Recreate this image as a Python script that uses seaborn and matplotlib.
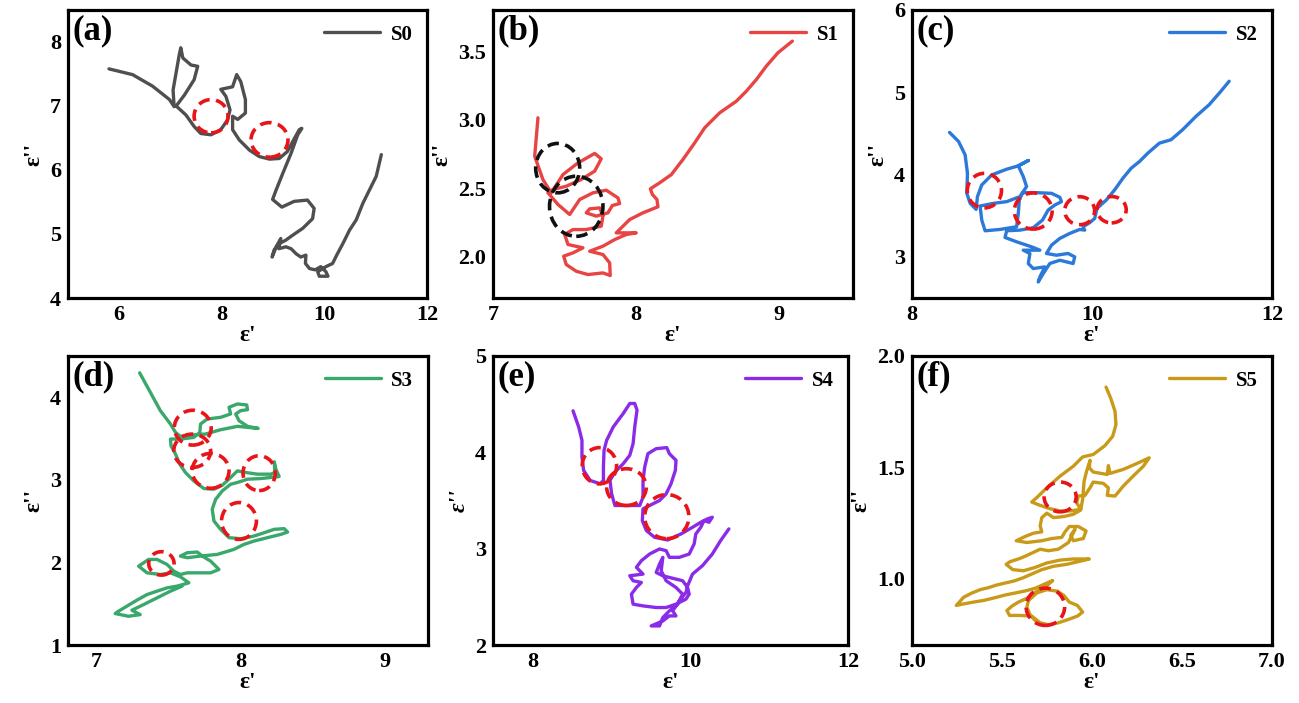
import matplotlib
matplotlib.use("Agg")
import matplotlib.pyplot as plt
from matplotlib.patches import Ellipse
from matplotlib.ticker import FormatStrFormatter
import seaborn as sns

# ---- data (epsilon' , epsilon'') ----
s0_re = [5.80, 6.26, 6.65, 6.98, 7.07, 7.05, 7.12, 7.17, 7.20, 7.24, 7.40, 7.53, 7.46, 7.27, 7.11, 7.30, 7.46,
         7.59, 7.79, 7.98, 8.11, 8.16, 8.08, 7.98, 8.21, 8.29, 8.37, 8.46, 8.46, 8.31, 8.21, 8.21, 8.34, 8.54,
         8.73, 8.93, 9.12, 9.28, 9.40, 9.51, 9.56, 9.48, 9.35, 9.19, 9.06, 8.99, 9.17, 9.41, 9.67, 9.80, 9.77,
         9.58, 9.38, 9.24, 9.12, 9.02, 8.98, 9.06, 9.15, 9.11, 9.25, 9.35, 9.45, 9.54, 9.64, 9.63, 9.71, 9.82,
         9.93, 10.03, 10.07, 9.90, 9.87, 10.03, 10.16, 10.24, 10.36, 10.49, 10.62, 10.75, 10.88, 11.01, 11.11]
s0_im = [7.58, 7.49, 7.31, 7.10, 6.99, 7.25, 7.57, 7.80, 7.91, 7.75, 7.64, 7.62, 7.41, 7.17, 7.00, 6.86, 6.68,
         6.57, 6.55, 6.63, 6.78, 6.94, 7.15, 7.26, 7.30, 7.49, 7.38, 7.10, 6.89, 6.79, 6.84, 6.63, 6.47, 6.31,
         6.21, 6.17, 6.18, 6.29, 6.47, 6.63, 6.65, 6.55, 6.26, 5.95, 5.69, 5.54, 5.42, 5.51, 5.53, 5.40, 5.24,
         5.09, 4.98, 4.90, 4.85, 4.75, 4.64, 4.80, 4.93, 4.77, 4.80, 4.77, 4.69, 4.64, 4.67, 4.54, 4.46, 4.44,
         4.49, 4.41, 4.34, 4.34, 4.41, 4.49, 4.54, 4.67, 4.85, 5.06, 5.22, 5.48, 5.69, 5.90, 6.24]

s1_re = [7.315, 7.292, 7.350, 7.408, 7.490, 7.595, 7.712, 7.758, 7.712, 7.618, 7.513, 7.420, 7.385, 7.455,
         7.537, 7.607, 7.700, 7.793, 7.875, 7.887, 7.835, 7.805, 7.723, 7.653, 7.677, 7.747, 7.770, 7.758,
         7.653, 7.560, 7.502, 7.525, 7.630, 7.560, 7.495, 7.513, 7.583, 7.665, 7.770, 7.821, 7.817, 7.770,
         7.677, 7.770, 7.852, 7.933, 8.003, 7.933, 7.863, 7.957, 8.050, 8.155, 8.148, 8.116, 8.102, 8.167,
         8.249, 8.330, 8.412, 8.482, 8.587, 8.704, 8.774, 8.844, 8.914, 8.995, 9.096]
s1_im = [3.014, 2.734, 2.563, 2.467, 2.600, 2.685, 2.754, 2.715, 2.625, 2.564, 2.515, 2.491, 2.467, 2.382,
         2.309, 2.418, 2.467, 2.486, 2.430, 2.389, 2.374, 2.321, 2.297, 2.321, 2.350, 2.357, 2.297, 2.224,
         2.199, 2.199, 2.163, 2.090, 2.066, 2.029, 2.005, 1.944, 1.895, 1.871, 1.883, 1.864, 1.956, 2.017,
         2.041, 2.078, 2.126, 2.163, 2.175, 2.175, 2.175, 2.272, 2.321, 2.365, 2.418, 2.455, 2.496, 2.540,
         2.600, 2.710, 2.831, 2.941, 3.050, 3.135, 3.208, 3.293, 3.391, 3.488, 3.573]

s2_re = [8.417, 8.517, 8.590, 8.616, 8.609, 8.646, 8.712, 8.727, 8.775, 8.886, 9.052, 9.181, 9.292, 9.181,
         9.236, 9.273, 9.199, 9.052, 8.904, 8.756, 8.775, 8.812, 8.978, 9.162, 9.181, 9.192, 9.229, 9.384,
         9.550, 9.642, 9.661, 9.587, 9.513, 9.450, 9.347, 9.199, 9.052, 9.033, 9.162, 9.328, 9.421, 9.236,
         9.310, 9.292, 9.347, 9.476, 9.421, 9.402, 9.458, 9.531, 9.642, 9.790, 9.808, 9.734, 9.605, 9.494,
         9.550, 9.642, 9.753, 9.863, 9.919, 9.900, 9.974, 10.030, 10.055, 10.159, 10.251, 10.343, 10.435,
         10.528, 10.620, 10.749, 10.878, 11.007, 11.155, 11.303, 11.432, 11.524]
s2_im = [4.512, 4.402, 4.240, 4.016, 3.772, 3.650, 3.577, 3.732, 3.874, 3.996, 4.065, 4.106, 4.171, 4.106,
         3.976, 3.854, 3.732, 3.671, 3.650, 3.618, 3.447, 3.317, 3.333, 3.366, 3.528, 3.691, 3.780, 3.780,
         3.772, 3.724, 3.671, 3.630, 3.569, 3.447, 3.354, 3.325, 3.317, 3.236, 3.183, 3.122, 3.081, 3.081,
         3.041, 2.919, 2.858, 2.878, 2.756, 2.695, 2.797, 2.919, 2.959, 2.919, 3.000, 3.041, 3.020, 3.041,
         3.142, 3.224, 3.285, 3.333, 3.325, 3.366, 3.415, 3.467, 3.589, 3.691, 3.813, 3.955, 4.077, 4.159,
         4.260, 4.382, 4.423, 4.545, 4.707, 4.850, 5.012, 5.134]

s3_re = [7.298, 7.372, 7.442, 7.512, 7.547, 7.581, 7.663, 7.756, 7.860, 7.977, 8.121, 8.047, 7.988, 7.965,
         8.000, 8.047, 8.042, 7.977, 7.919, 7.930, 7.860, 7.767, 7.721, 7.716, 7.674, 7.581, 7.512, 7.516,
         7.547, 7.577, 7.616, 7.674, 7.744, 7.814, 7.872, 7.930, 7.977, 8.035, 8.116, 8.209, 8.237, 8.233,
         8.244, 8.267, 8.140, 8.047, 7.977, 7.930, 7.872, 7.826, 7.802, 7.814, 7.860, 7.919, 8.000, 8.093,
         8.163, 8.233, 8.302, 8.326, 8.279, 8.186, 8.093, 8.023, 7.953, 7.837, 7.721, 7.628, 7.581, 7.628,
         7.698, 7.733, 7.791, 7.849, 7.791, 7.698, 7.628, 7.581, 7.535, 7.488, 7.419, 7.360, 7.291, 7.349,
         7.442, 7.512, 7.581, 7.640, 7.558, 7.488, 7.419, 7.349, 7.279, 7.209, 7.151, 7.128, 7.221, 7.302,
         7.244, 7.326, 7.419, 7.512, 7.593]
s3_im = [4.296, 4.061, 3.838, 3.676, 3.575, 3.526, 3.543, 3.555, 3.607, 3.648, 3.623, 3.648, 3.717, 3.798,
         3.838, 3.850, 3.907, 3.919, 3.879, 3.798, 3.757, 3.737, 3.676, 3.575, 3.514, 3.494, 3.494, 3.413,
         3.312, 3.190, 3.089, 2.988, 2.895, 2.887, 2.935, 3.028, 3.109, 3.089, 3.069, 3.069, 3.089, 3.219,
         3.130, 3.040, 3.016, 3.008, 2.968, 2.947, 2.866, 2.765, 2.644, 2.502, 2.401, 2.300, 2.287, 2.320,
         2.360, 2.401, 2.409, 2.368, 2.340, 2.300, 2.259, 2.219, 2.158, 2.097, 2.077, 2.057, 2.077, 2.117,
         2.126, 2.077, 2.016, 1.915, 1.874, 1.874, 1.874, 1.854, 1.895, 1.976, 2.036, 2.036, 1.955, 1.874,
         1.854, 1.874, 1.826, 1.753, 1.713, 1.692, 1.652, 1.611, 1.543, 1.470, 1.409, 1.381, 1.348, 1.368,
         1.421, 1.490, 1.571, 1.652, 1.713]

s4_re = [8.515, 8.586, 8.628, 8.628, 8.649, 8.732, 8.858, 8.900, 8.900, 8.908, 8.941, 9.025, 9.151, 9.234,
         9.297, 9.326, 9.297, 9.276, 9.234, 9.151, 9.046, 8.983, 9.004, 9.046, 9.192, 9.360, 9.402, 9.402,
         9.423, 9.464, 9.569, 9.703, 9.736, 9.820, 9.812, 9.757, 9.695, 9.611, 9.485, 9.402, 9.393, 9.444,
         9.548, 9.715, 9.883, 10.029, 10.134, 10.218, 10.280, 10.238, 10.176, 10.134, 10.071, 10.050, 9.987,
         9.862, 9.736, 9.695, 9.611, 9.485, 9.381, 9.318, 9.402, 9.234, 9.276, 9.381, 9.318, 9.255, 9.276,
         9.402, 9.569, 9.695, 9.820, 9.946, 9.987, 9.967, 9.904, 9.820, 9.736, 9.653, 9.569, 9.611, 9.653,
         9.632, 9.695, 9.820, 9.904, 9.841, 9.736, 9.653, 9.611, 9.506, 9.653, 9.736, 9.820, 9.778, 9.862,
         9.946, 9.967, 10.029, 10.155, 10.280, 10.385, 10.490]
s4_im = [4.431, 4.264, 4.125, 3.951, 3.813, 3.708, 3.674, 3.708, 3.847, 4.021, 4.125, 4.264, 4.403, 4.507,
         4.507, 4.438, 4.264, 4.090, 3.969, 3.882, 3.795, 3.708, 3.569, 3.448, 3.448, 3.448, 3.535, 3.708,
         3.847, 3.986, 4.038, 4.049, 3.986, 3.917, 3.813, 3.674, 3.569, 3.500, 3.448, 3.413, 3.292, 3.188,
         3.118, 3.090, 3.153, 3.222, 3.274, 3.309, 3.326, 3.274, 3.292, 3.222, 3.153, 3.049, 2.944, 2.910,
         2.910, 2.979, 2.997, 2.944, 2.875, 2.806, 2.736, 2.719, 2.667, 2.649, 2.597, 2.528, 2.424, 2.406,
         2.389, 2.389, 2.424, 2.476, 2.528, 2.597, 2.667, 2.684, 2.701, 2.719, 2.753, 2.840, 2.910, 2.771,
         2.667, 2.597, 2.528, 2.424, 2.354, 2.285, 2.198, 2.198, 2.250, 2.302, 2.302, 2.354, 2.458, 2.545,
         2.615, 2.736, 2.823, 2.944, 3.083, 3.205]

s5_re = [6.078, 6.104, 6.128, 6.133, 6.115, 6.072, 6.007, 5.948, 5.896, 5.823, 5.749, 5.693, 5.665, 5.712,
         5.767, 5.823, 5.878, 5.937, 5.915, 5.924, 5.961, 5.989, 6.007, 6.063, 6.091, 6.085, 6.128, 6.174,
         6.229, 6.285, 6.318, 6.248, 6.174, 6.100, 6.091, 6.085, 6.007, 5.985, 5.989, 5.970, 5.956, 5.948,
         5.937, 5.896, 5.845, 5.786, 5.749, 5.721, 5.712, 5.721, 5.675, 5.628, 5.579, 5.638, 5.721, 5.776,
         5.832, 5.850, 5.874, 5.924, 5.967, 5.952, 5.896, 5.882, 5.906, 5.869, 5.813, 5.758, 5.712, 5.665,
         5.628, 5.591, 5.545, 5.523, 5.560, 5.619, 5.684, 5.749, 5.823, 5.896, 5.985, 5.924, 5.860, 5.786,
         5.721, 5.665, 5.619, 5.567, 5.518, 5.471, 5.425, 5.379, 5.333, 5.287, 5.246, 5.287, 5.342, 5.401,
         5.462, 5.518, 5.573, 5.628, 5.684, 5.739, 5.782, 5.739, 5.684, 5.638, 5.591, 5.555, 5.527, 5.542,
         5.601, 5.665, 5.712, 5.758, 5.813, 5.869, 5.919, 5.948, 5.919, 5.874, 5.845, 5.808, 5.749, 5.693,
         5.647, 5.638, 5.656, 5.684]
s5_im = [1.860, 1.810, 1.751, 1.691, 1.639, 1.597, 1.557, 1.546, 1.504, 1.460, 1.407, 1.363, 1.343, 1.328,
         1.313, 1.303, 1.303, 1.310, 1.340, 1.370, 1.373, 1.407, 1.433, 1.427, 1.407, 1.373, 1.370, 1.415,
         1.460, 1.504, 1.542, 1.516, 1.490, 1.472, 1.507, 1.467, 1.478, 1.497, 1.531, 1.482, 1.437, 1.355,
         1.307, 1.288, 1.278, 1.273, 1.293, 1.273, 1.236, 1.209, 1.203, 1.188, 1.169, 1.161, 1.169, 1.179,
         1.184, 1.209, 1.233, 1.233, 1.213, 1.179, 1.169, 1.194, 1.221, 1.161, 1.131, 1.124, 1.131, 1.113,
         1.099, 1.087, 1.075, 1.063, 1.039, 1.034, 1.049, 1.069, 1.082, 1.087, 1.087, 1.075, 1.063, 1.054,
         1.039, 1.019, 1.003, 0.988, 0.979, 0.970, 0.958, 0.949, 0.934, 0.915, 0.878, 0.885, 0.893, 0.901,
         0.913, 0.925, 0.934, 0.943, 0.955, 0.975, 0.990, 0.960, 0.937, 0.910, 0.893, 0.875, 0.855, 0.833,
         0.833, 0.830, 0.800, 0.791, 0.800, 0.815, 0.830, 0.848, 0.878, 0.893, 0.922, 0.942, 0.949, 0.934,
         0.900, 0.870, 0.836, 0.810]

# dashed ellipse annotations: (centre eps', centre eps'', half-width, half-height)
circ_a = [(7.79, 6.84, 0.33, 0.26), (8.93, 6.47, 0.36, 0.27)]
circ_b = [(7.453, 2.647, 0.154, 0.18), (7.583, 2.369, 0.187, 0.219)]
circ_c = [(8.804, 3.805, 0.19, 0.21), (9.347, 3.557, 0.21, 0.22), (9.863, 3.561, 0.166, 0.17),
          (10.218, 3.573, 0.162, 0.16)]
circ_d = [(7.667, 3.632, 0.128, 0.211), (7.663, 3.352, 0.128, 0.202), (7.791, 3.109, 0.128, 0.211),
          (8.128, 3.081, 0.112, 0.211), (7.988, 2.502, 0.121, 0.223), (7.449, 1.988, 0.088, 0.142)]
circ_e = [(8.849, 3.861, 0.218, 0.188), (9.192, 3.639, 0.251, 0.191), (9.703, 3.333, 0.28, 0.229)]
circ_f = [(5.823, 1.366, 0.089, 0.067), (5.741, 0.872, 0.107, 0.084)]

sns.set_style("white")
plt.rcParams['font.family'] = ['Liberation Serif', 'DejaVu Serif']
plt.rcParams['font.weight'] = 'bold'
plt.rcParams['axes.labelweight'] = 'bold'
plt.rcParams['text.color'] = 'black'
plt.rcParams['axes.labelcolor'] = 'black'
plt.rcParams['xtick.color'] = 'black'
plt.rcParams['ytick.color'] = 'black'

fig = plt.figure(figsize=(12.99, 7.03), dpi=100)


def draw_panel(rect, re, im, color, name, tag, circles, ccolor, xlim, ylim, xticks, yticks,
               xfmt=None, yfmt=None, ylab_style='normal'):
    ax = fig.add_axes(rect)
    sns.lineplot(x=re, y=im, sort=False, estimator=None, color=color, lw=2.4, label=name, ax=ax)
    for cx, cy, rx, ry in circles:
        ax.add_patch(Ellipse((cx, cy), 2 * rx, 2 * ry, fill=False, ec=ccolor, lw=2.6,
                             ls=(0, (3.2, 1.8)), zorder=3))
    ax.set_xlim(*xlim)
    ax.set_ylim(*ylim)
    ax.set_xticks(xticks)
    ax.set_yticks(yticks)
    if xfmt:
        ax.xaxis.set_major_formatter(FormatStrFormatter(xfmt))
    if yfmt:
        ax.yaxis.set_major_formatter(FormatStrFormatter(yfmt))
    ax.tick_params(direction='in', length=4, width=2, labelsize=16, pad=5, colors='black')
    for lab in ax.get_xticklabels() + ax.get_yticklabels():
        lab.set_fontweight('bold')
    for sp in ax.spines.values():
        sp.set_visible(True)
        sp.set_linewidth(2.3)
        sp.set_color('black')
    ax.set_xlabel("ε'", fontsize=17, fontweight='bold', labelpad=0)
    ax.set_ylabel("ε''", fontsize=17, fontweight='bold', fontstyle=ylab_style, labelpad=4)
    ax.legend(loc='upper right', frameon=False, handlelength=2.7, handletextpad=0.5,
              borderaxespad=0.3, prop={'size': 15, 'weight': 'bold'})
    ax.text(0.012, 0.985, tag, transform=ax.transAxes, ha='left', va='top',
            fontsize=25, fontweight='bold')
    return ax


top_b, top_h = 0.5761, 0.4097
bot_b, bot_h = 0.0825, 0.4111

draw_panel([0.0523, top_b, 0.2764, top_h], s0_re, s0_im, '#4f4f4f', 'S0', '(a)', circ_a, '#e8141a',
           (5, 12), (4, 8.5), [6, 8, 10, 12], [4, 5, 6, 7, 8])
draw_panel([0.3795, top_b, 0.2771, top_h], s1_re, s1_im, '#e84444', 'S1', '(b)', circ_b, '#111111',
           (7, 9.52), (1.7, 3.8), [7, 8, 9], [2.0, 2.5, 3.0, 3.5], yfmt='%.1f')
draw_panel([0.7021, top_b, 0.2771, top_h], s2_re, s2_im, '#2b79d8', 'S2', '(c)', circ_c, '#e8141a',
           (8, 12), (2.5, 6), [8, 10, 12], [3, 4, 5, 6])
draw_panel([0.0523, bot_b, 0.2771, bot_h], s3_re, s3_im, '#3aa86c', 'S3', '(d)', circ_d, '#e8141a',
           (6.8, 9.3), (1, 4.5), [7, 8, 9], [1, 2, 3, 4])
draw_panel([0.3795, bot_b, 0.2733, bot_h], s4_re, s4_im, '#8a2be8', 'S4', '(e)', circ_e, '#e8141a',
           (7.5, 12), (2, 5), [8, 10, 12], [2, 3, 4, 5], ylab_style='italic')
draw_panel([0.7021, bot_b, 0.2771, bot_h], s5_re, s5_im, '#c99a1a', 'S5', '(f)', circ_f, '#e8141a',
           (5, 7), (0.7, 2.0), [5.0, 5.5, 6.0, 6.5, 7.0], [1.0, 1.5, 2.0], xfmt='%.1f', yfmt='%.1f')

plt.savefig('out.png', dpi=100)
